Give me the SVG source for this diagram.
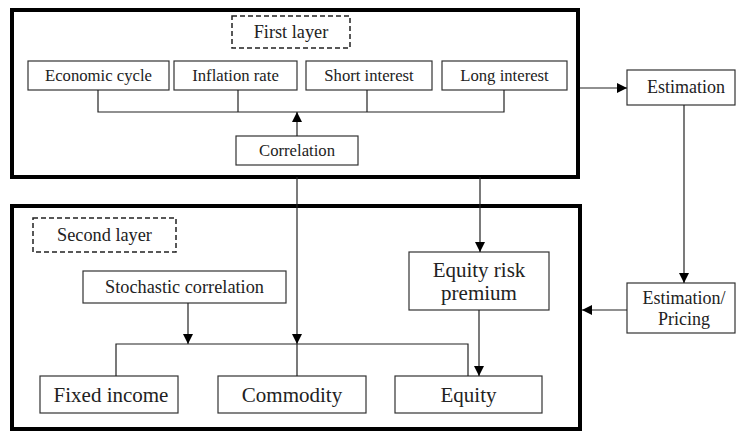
<svg xmlns="http://www.w3.org/2000/svg" width="736" height="431" viewBox="0 0 736 431">
<style>
.layer{fill:#fff;stroke:#000;stroke-width:4}
.dash{fill:none;stroke:#222;stroke-width:1.5;stroke-dasharray:5,3}
.box{fill:#fff;stroke:#333;stroke-width:1.2}
.s{font-size:16.7px}
.d{font-size:18.3px}
.m{font-size:18px}
.l{font-size:21px}
.c{fill:none;stroke:#222;stroke-width:1.2}
</style>
<defs>
<marker id="ah" viewBox="0 0 10 10" refX="10" refY="5" markerWidth="10" markerHeight="10" markerUnits="userSpaceOnUse" orient="auto"><path d="M0,0 L10,5 L0,10 z" fill="#000"/></marker>
</defs>
<rect width="736" height="431" fill="#fff"/>
<g id="first-layer"><rect class="layer" x="12" y="10" width="566" height="167"/></g>
<g id="second-layer"><rect class="layer" x="12" y="206" width="568" height="223"/></g>
<g font-family="Liberation Serif, Times New Roman, DejaVu Serif, serif" fill="#222" text-anchor="middle">
<g id="first-layer-label"><rect class="dash" x="232" y="16" width="118" height="32"/><text class="d" x="291" y="38">First layer</text></g>
<g id="economic-cycle"><rect class="box" x="28" y="61" width="141" height="29"/><text class="s" x="98.5" y="81">Economic cycle</text></g>
<g id="inflation-rate"><rect class="box" x="174" y="61" width="123" height="29"/><text class="s" x="235.5" y="81">Inflation rate</text></g>
<g id="short-interest"><rect class="box" x="306" y="61" width="126" height="29"/><text class="s" x="369" y="81">Short interest</text></g>
<g id="long-interest"><rect class="box" x="442" y="61" width="125" height="29"/><text class="s" x="504.5" y="81">Long interest</text></g>
<g id="correlation"><rect class="box" x="236" y="136" width="122" height="29"/><text class="s" x="297" y="156">Correlation</text></g>
<g id="estimation"><rect class="box" x="627" y="70" width="108" height="35"/><text class="m" x="686" y="93">Estimation</text></g>
<g id="estimation-pricing"><rect class="box" x="627" y="283" width="108" height="50"/><text class="m" x="684" y="304">Estimation/</text><text class="m" x="684" y="325">Pricing</text></g>
<g id="second-layer-label"><rect class="dash" x="33" y="218" width="143" height="34"/><text class="d" x="104.5" y="241">Second layer</text></g>
<g id="stochastic-correlation"><rect class="box" x="83" y="271" width="203" height="32"/><text class="d" x="184.5" y="293">Stochastic correlation</text></g>
<g id="equity-risk-premium"><rect class="box" x="409" y="252" width="140" height="58"/><text class="l" x="479" y="277">Equity risk</text><text class="l" x="479" y="300">premium</text></g>
<g id="fixed-income"><rect class="box" x="40" y="376" width="138" height="37"/><text class="l" x="111" y="402">Fixed income</text></g>
<g id="commodity"><rect class="box" x="218" y="376" width="148" height="37"/><text class="l" x="292" y="402">Commodity</text></g>
<g id="equity"><rect class="box" x="395" y="376" width="147" height="37"/><text class="l" x="468.5" y="402">Equity</text></g>
</g>
<g id="connectors">
<path class="c" d="M98,90 V112 H504 V90 M238,90 V112 M367,90 V112"/>
<path class="c" d="M297,136 V112" marker-end="url(#ah)"/>
<path class="c" d="M580,88 H627" marker-end="url(#ah)"/>
<path class="c" d="M684,105 V283" marker-end="url(#ah)"/>
<path class="c" d="M627,310 H582" marker-end="url(#ah)"/>
<path class="c" d="M297,177 V344" marker-end="url(#ah)"/>
<path class="c" d="M480,177 V252" marker-end="url(#ah)"/>
<path class="c" d="M188,303 V344" marker-end="url(#ah)"/>
<path class="c" d="M116,376 V344 H468 V376 M297,344 V376"/>
<path class="c" d="M479,310 V376" marker-end="url(#ah)"/>
</g>
</svg>
